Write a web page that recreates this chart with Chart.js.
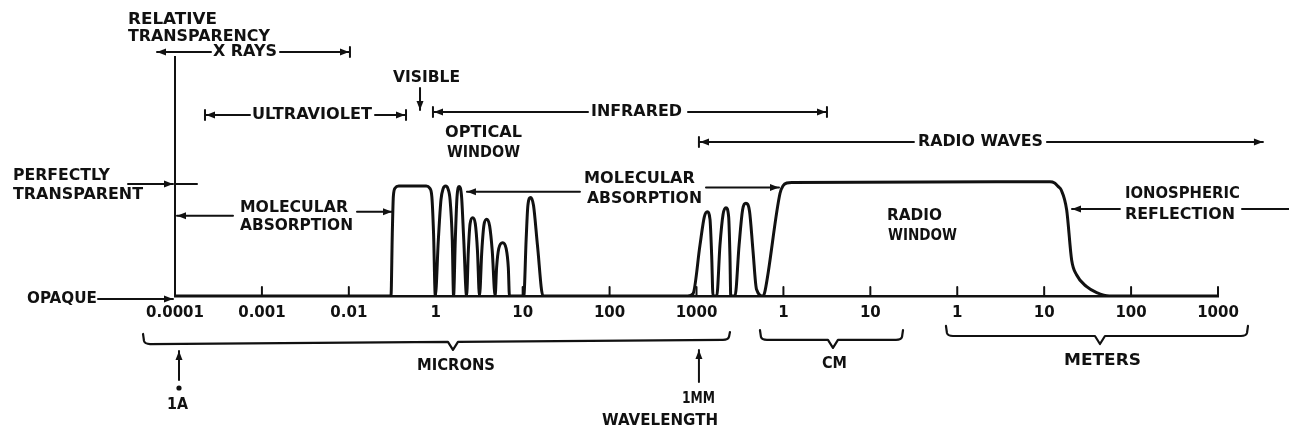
<!DOCTYPE html>
<html>
<head>
<meta charset="utf-8">
<script src="https://cdn.jsdelivr.net/npm/chart.js@4.4.1/dist/chart.umd.min.js"></script>
<style>
  html, body { margin: 0; padding: 0; background: #fff; }
  canvas { display: block; }
</style>
</head>
<body>
<canvas id="spectrum" width="1289" height="433"></canvas>
<script>
// ---- Data ----
// x axis: one step per labelled decade (microns, then cm, then meters)
const TICK_LABELS = ["0.0001", "0.001", "0.01", "1", "10", "100", "1000", "1", "10", "1", "10", "100", "1000"];

// transparency curve, x in axis steps, y relative transparency (1 = perfectly transparent)
const CURVE_X = [
  0, 2.485, 2.500, 2.512, 2.533, 2.575, 2.890, 2.930, 2.955, 2.975, 2.995,
  3.030, 3.060, 3.085, 3.114, 3.140, 3.165, 3.190, 3.205,
  3.225, 3.245, 3.271, 3.297, 3.322, 3.355,
  3.375, 3.395, 3.425, 3.455, 3.480, 3.503,
  3.530, 3.555, 3.586, 3.620, 3.650, 3.683,
  3.700, 3.725, 3.770, 3.810, 3.835, 3.848,
  4.013, 4.040, 4.060, 4.092, 4.125, 4.170, 4.234,
  5.900, 5.960, 6.040, 6.090, 6.124, 6.155, 6.175, 6.190,
  6.233, 6.270, 6.305, 6.339, 6.370, 6.385, 6.394,
  6.443, 6.490, 6.530, 6.569, 6.610, 6.650, 6.690, 6.768,
  6.790, 6.961, 6.996, 7.040, 7.100, 10.067, 10.120, 10.160, 10.195,
  10.259, 10.316, 10.374, 10.489, 10.604, 10.750, 12
];
const CURVE_Y = [
  0, 0, 0.55, 0.88, 0.955, 0.973, 0.973, 0.955, 0.88, 0.55, 0,
  0.50, 0.85, 0.95, 0.973, 0.95, 0.85, 0.50, 0,
  0.50, 0.88, 0.969, 0.88, 0.50, 0,
  0.40, 0.64, 0.693, 0.64, 0.40, 0,
  0.40, 0.63, 0.679, 0.62, 0.40, 0,
  0.25, 0.42, 0.472, 0.42, 0.25, 0,
  0, 0.50, 0.80, 0.872, 0.80, 0.45, 0,
  0, 0.02, 0.45, 0.70, 0.746, 0.68, 0.35, 0,
  0, 0.45, 0.72, 0.781, 0.70, 0.35, 0,
  0, 0.45, 0.76, 0.820, 0.75, 0.40, 0.06, 0,
  0.05, 0.909, 0.975, 1.000, 1.005, 1.011, 1.000, 0.970, 0.940,
  0.761, 0.319, 0.186, 0.082, 0.030, 0, 0
];

const INK = "#111";
const FONT = "'DejaVu Sans', sans-serif";

// ---- Labels, arrows and brackets ----
const annotations = {
  id: "annotations",
  afterDraw(chart) {
    const ctx = chart.ctx;
    const xs = chart.scales.x, ys = chart.scales.y;
    const X = (i) => xs.getPixelForValue(i);
    const Y = (v) => ys.getPixelForValue(v);

    ctx.save();
    ctx.fillStyle = INK;
    ctx.strokeStyle = INK;
    ctx.lineCap = "round";
    ctx.lineJoin = "round";

    function label(s, i, v, w, size) {
      ctx.font = "bold " + (size || 16) + "px " + FONT;
      ctx.textAlign = "left";
      ctx.textBaseline = "middle";
      const m = ctx.measureText(s).width;
      ctx.save();
      ctx.translate(X(i), Y(v));
      ctx.scale(w / m, 1);
      ctx.fillText(s, 0, 0);
      ctx.restore();
    }
    function line(x1, y1, x2, y2, lw) {
      ctx.lineWidth = lw || 2;
      ctx.beginPath();
      ctx.moveTo(x1, y1);
      ctx.lineTo(x2, y2);
      ctx.stroke();
    }
    function head(x, y, ang) {
      const L = 9, H = 3.5;
      const c = Math.cos(ang), s = Math.sin(ang);
      ctx.beginPath();
      ctx.moveTo(x, y);
      ctx.lineTo(x - L * c + H * s, y - L * s - H * c);
      ctx.lineTo(x - L * c - H * s, y - L * s + H * c);
      ctx.closePath();
      ctx.fill();
    }
    function hArrow(i1, i2, v) {
      const x1 = X(i1), x2 = X(i2), y = Y(v);
      line(x1, y, x2, y);
      head(x2, y, x2 > x1 ? 0 : Math.PI);
    }
    function hLine(i1, i2, v) {
      line(X(i1), Y(v), X(i2), Y(v));
    }
    function vArrow(i, v1, v2) {
      const x = X(i), y1 = Y(v1), y2 = Y(v2);
      line(x, y1, x, y2);
      head(x, y2, y2 > y1 ? Math.PI / 2 : -Math.PI / 2);
    }
    function bar(i, v) {
      const x = X(i), y = Y(v);
      line(x, y - 5, x, y + 5, 2);
    }
    function bracket(i1, i2, im, vEndL, vL, vEndR, vR) {
      const x1 = X(i1), x2 = X(i2), xm = X(im);
      const yL = Y(vL), yR = Y(vR);
      const yM = yL + (yR - yL) * (xm - x1) / (x2 - x1);
      ctx.lineWidth = 2.2;
      ctx.beginPath();
      ctx.moveTo(x1, Y(vEndL));
      ctx.lineTo(x1 + 1, yL - 3);
      ctx.quadraticCurveTo(x1 + 2, yL, x1 + 7, yL);
      ctx.lineTo(xm - 5, yM);
      ctx.lineTo(xm, yM + 8);
      ctx.lineTo(xm + 5, yM);
      ctx.lineTo(x2 - 7, yR);
      ctx.quadraticCurveTo(x2 - 2, yR, x2 - 1, yR - 3);
      ctx.lineTo(x2, Y(vEndR));
      ctx.stroke();
    }

    // inward tick marks on the wavelength axis
    TICK_LABELS.forEach((_, i) => {
      if (i > 0) line(X(i), Y(0), X(i), Y(0) - 9, 2);
    });

    // axis title
    label("RELATIVE", -0.541, 2.440, 89);
    label("TRANSPARENCY", -0.541, 2.292, 142);

    // spectral bands
    hArrow(0.414, -0.207, 2.160);
    label("X RAYS", 0.437, 2.160, 64);
    hArrow(1.208, 2.002, 2.160);
    bar(2.013, 2.160);

    bar(0.345, 1.602);
    hArrow(0.863, 0.357, 1.602);
    label("ULTRAVIOLET", 0.886, 1.602, 120);
    hArrow(2.301, 2.646, 1.602);
    bar(2.658, 1.602);

    label("VISIBLE", 2.508, 1.934, 67);
    vArrow(2.819, 1.841, 1.646);

    bar(2.968, 1.628);
    hArrow(4.752, 2.980, 1.628);
    label("INFRARED", 4.786, 1.628, 91);
    hArrow(5.902, 7.490, 1.628);
    bar(7.501, 1.628);

    label("OPTICAL", 3.106, 1.447, 77);
    label("WINDOW", 3.129, 1.270, 73);

    bar(6.028, 1.363);
    hArrow(8.502, 6.040, 1.363);
    label("RADIO WAVES", 8.548, 1.363, 125);
    hArrow(10.032, 12.517, 1.363);

    // left side labels
    label("PERFECTLY", -1.864, 1.062, 97);
    label("TRANSPARENT", -1.864, 0.894, 130);
    hArrow(-0.541, -0.023, 0.991);
    hLine(0, 0.253, 0.991);

    label("OPAQUE", -1.703, -0.027, 70);
    hArrow(-0.886, -0.023, -0.027);

    // absorption and windows
    label("MOLECULAR", 0.748, 0.783, 108);
    label("ABSORPTION", 0.748, 0.619, 113);
    hArrow(0.667, 0.023, 0.711);
    hArrow(2.094, 2.497, 0.746);

    label("MOLECULAR", 4.705, 1.035, 111);
    label("ABSORPTION", 4.740, 0.858, 115);
    hArrow(4.659, 3.359, 0.923);
    hArrow(6.109, 6.949, 0.960);

    label("RADIO", 8.191, 0.708, 55);
    label("WINDOW", 8.203, 0.531, 69);

    label("IONOSPHERIC", 10.929, 0.903, 115);
    label("REFLECTION", 10.929, 0.721, 110);
    hArrow(10.872, 10.320, 0.770);
    hLine(12.276, 12.816, 0.770);

    // unit brackets below the axis
    bracket(-0.368, 6.385, 3.198, -0.336, -0.425, -0.319, -0.389);
    label("MICRONS", 2.784, -0.619, 78, 15);

    vArrow(0.046, -0.743, -0.487);
    ctx.beginPath();
    ctx.arc(X(0.046), Y(-0.814), 2.6, 0, Math.PI * 2);
    ctx.fill();
    label("1A", -0.092, -0.969, 21, 15);

    vArrow(6.028, -0.761, -0.478);
    label("1MM", 5.833, -0.912, 33, 15);
    label("WAVELENGTH", 4.913, -1.111, 116, 15);

    bracket(6.730, 8.376, 7.570, -0.301, -0.389, -0.301, -0.389);
    label("CM", 7.444, -0.602, 25, 15);

    bracket(8.870, 12.345, 10.642, -0.265, -0.354, -0.265, -0.354);
    label("METERS", 10.228, -0.575, 77, 15);

    ctx.restore();
  }
};

// ---- Chart ----
new Chart(document.getElementById("spectrum"), {
  type: "line",
  data: {
    datasets: [{
      data: CURVE_X.map((x, i) => ({ x, y: CURVE_Y[i] })),
      borderColor: INK,
      borderWidth: 3,
      pointRadius: 0,
      fill: false,
      cubicInterpolationMode: "monotone",
      borderJoinStyle: "round",
      borderCapStyle: "round"
    }]
  },
  options: {
    responsive: false,
    animation: false,
    devicePixelRatio: 1,
    layout: { padding: { left: 175, right: 71, top: 57, bottom: 0 } },
    plugins: {
      legend: { display: false },
      tooltip: { enabled: false },
      title: { display: false }
    },
    scales: {
      x: {
        type: "linear",
        min: 0,
        max: 12,
        afterFit: (scale) => { scale.height = 137; },
        grid: { display: true, drawOnChartArea: false, drawTicks: false },
        border: { display: true, color: INK, width: 2.5 },
        ticks: {
          stepSize: 1,
          autoSkip: false,
          maxRotation: 0,
          padding: 8,
          color: INK,
          font: { family: FONT, size: 15, weight: "bold" },
          callback: (v) => (Number.isInteger(v) ? TICK_LABELS[v] : "")
        }
      },
      y: {
        min: 0,
        max: 2.115,
        afterFit: (scale) => { scale.width = 0; },
        grid: { display: false },
        border: { display: true, color: INK, width: 2 },
        ticks: { display: false }
      }
    }
  },
  plugins: [annotations]
});
</script>
</body>
</html>
